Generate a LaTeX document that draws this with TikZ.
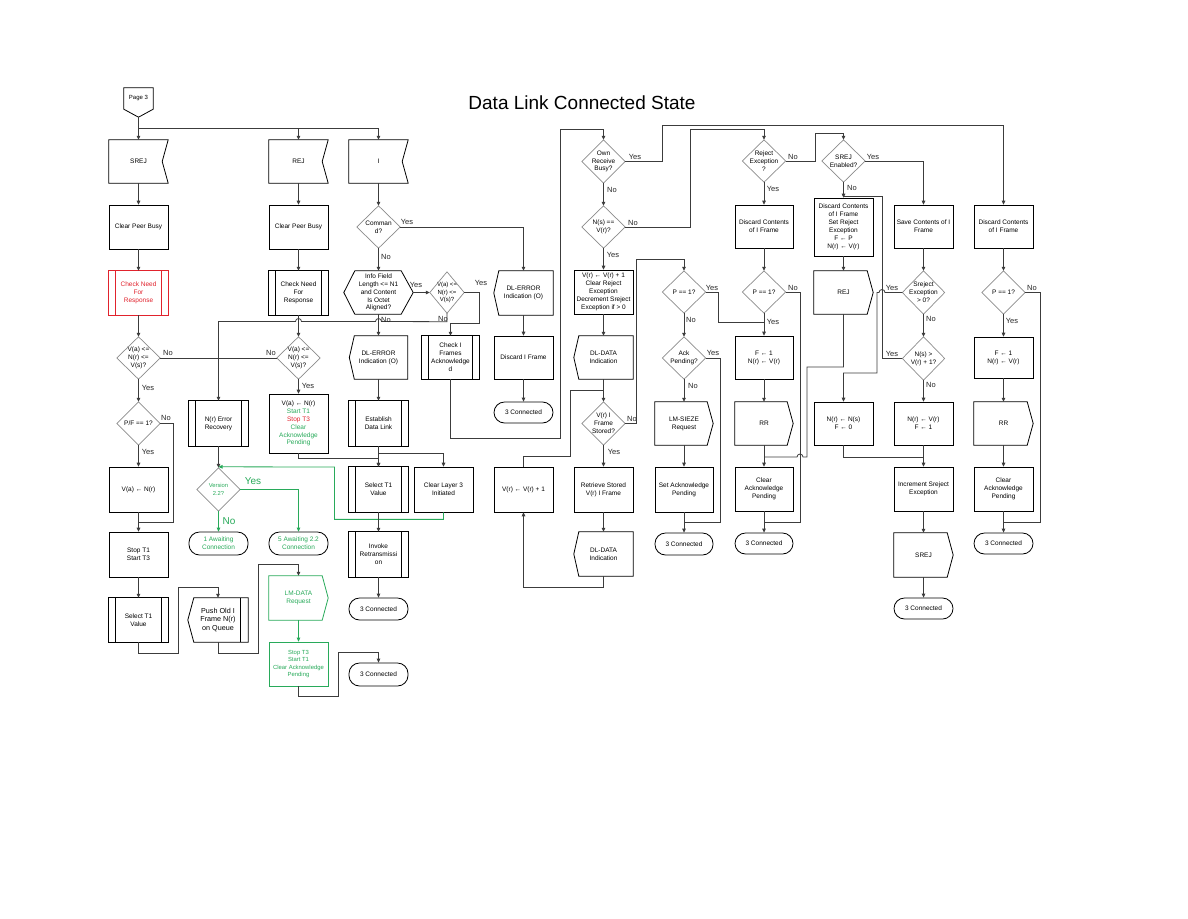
\documentclass[tikz,border=0pt]{standalone}
\usepackage{fontspec}
\setmainfont{Liberation Sans}
\usetikzlibrary{arrows.meta,calc,shadows}
\definecolor{grn}{RGB}{40,170,90}
\definecolor{rd}{RGB}{225,35,45}
\definecolor{ln}{RGB}{60,60,60}
\newcommand\fs{\fontsize{6.5}{7.9}\selectfont}
\newcommand\outrecv[2][black]{\draw[shp,draw=#1] (#2.north west) -- (#2.north east) -- ([xshift=-6pt]#2.east) -- (#2.south east) -- (#2.south west) -- cycle;}
\newcommand\outsend[2][black]{\draw[shp,draw=#1] (#2.north west) -- ([xshift=-6pt]#2.north east) -- (#2.east) -- ([xshift=-6pt]#2.south east) -- (#2.south west) -- cycle;}
\newcommand\outdisp[2][black]{\draw[shp,draw=#1] (#2.north east) -- ([xshift=5pt]#2.north west) -- (#2.west) -- ([xshift=5pt]#2.south west) -- (#2.south east) -- cycle;}
\newcommand\outpre[2][black]{\draw[shp,draw=#1] (#2.north west) rectangle (#2.south east);
  \draw[shp,draw=#1] ([xshift=7pt]#2.north west) -- ([xshift=7pt]#2.south west);
  \draw[shp,draw=#1] ([xshift=-7pt]#2.north east) -- ([xshift=-7pt]#2.south east);}
\newcommand\outdia[1]{\draw[dia] (#1.north) -- (#1.east) -- (#1.south) -- (#1.west) -- cycle;}
\newcommand\outhex[1]{\draw[shp] (#1.west) -- ([xshift=11pt]#1.north west) -- ([xshift=-12pt]#1.north east) -- (#1.east) -- ([xshift=-12pt]#1.south east) -- ([xshift=11pt]#1.south west) -- cycle;}
\begin{document}
\begin{tikzpicture}[x=1pt,y=-1pt,
  base/.style={inner sep=0pt, align=center, font=\fs},
  sz/.style 2 args={minimum width=#1pt, minimum height=#2pt},
  nd/.style={base},
  bx/.style={base, draw=black, line width=0.7pt, fill=white,
     drop shadow={shadow xshift=0.7pt, shadow yshift=-0.7pt, fill=black, opacity=1}},
  gbx/.style={base, draw=grn, line width=0.8pt, fill=white},
  term/.style={base, draw=black, line width=0.8pt, rounded corners=10.5pt},
  shp/.style={line width=0.8pt},
  dia/.style={line width=0.7pt, draw=black!45},
  line/.style={draw=ln, line width=0.8pt},
  arr/.style={line, -{Triangle[length=4pt,width=3.6pt]}},
  garr/.style={arr, draw=grn},
  lab/.style={inner sep=0pt, font=\fontsize{7.5}{8}\selectfont, text=black!85},
  glab/.style={inner sep=0pt, font=\fontsize{10}{11}\selectfont, text=grn}]
\useasboundingbox (0,0) rectangle (1188,918);
\fill[white] (0,0) rectangle (1188,918);

\node[font=\fontsize{19}{22}\selectfont] (title) at (582,103) {Data Link Connected State};

% page connector
\node[nd, sz={29}{21}, font=\fontsize{6}{7}\selectfont] (p3) at (138.5,98.5) {Page 3};
\coordinate (p3tip) at ([yshift=-8pt]p3.south);
\draw[shp] (p3.south west) -- (p3.north west) -- (p3.north east) -- (p3.south east) -- (p3tip) -- cycle;

% ---------- column A
\node[nd, sz={59}{43}] (srej) at (138.5,161.5) {SREJ}; \outrecv{srej}
\node[bx, sz={59}{44}] (cpb1) at (138.5,227) {Clear Peer Busy};
\node[nd, sz={59}{44}, text=rd] (cnr1) at (138.5,293) {Check Need\\For\\Response}; \outpre[rd]{cnr1}
\node[nd, sz={43}{42}] (d1) at (138.5,358) {V(a) <=\\N(r) <=\\V(s)?}; \outdia{d1}
\node[nd, sz={43}{43}] (pf) at (138.5,423.5) {P/F == 1?}; \outdia{pf}
\node[bx, sz={59}{45}] (vas1) at (138.5,489.5) {V(a) ← N(r)};
\node[bx, sz={59}{45}] (st1) at (138.5,554.5) {Stop T1\\Start T3};
\node[nd, sz={59}{44}] (sel1) at (138.5,620) {Select T1\\Value}; \outpre{sel1}
\node[nd, sz={60}{44}, font=\fontsize{7.2}{8.3}\selectfont] (push) at (218,620) {Push Old I\\Frame N(r)\\on Queue};
\draw[shp] (push.north east) -- ([xshift=6pt]push.north west) -- (push.west) -- ([xshift=6pt]push.south west) -- (push.south east) -- cycle;
\draw[shp] ([xshift=-8pt]push.north east) -- ([xshift=-8pt]push.south east);

% ---------- column B
\node[nd, sz={59}{43}] (rej) at (298.5,161.5) {REJ}; \outrecv{rej}
\node[bx, sz={59}{44}] (cpb2) at (298.5,227) {Clear Peer Busy};
\node[nd, sz={59}{44}] (cnr2) at (298.5,293) {Check Need\\For\\Response}; \outpre{cnr2}
\node[nd, sz={43}{42}] (d2) at (298.5,358) {V(a) <=\\N(r) <=\\V(s)?}; \outdia{d2}
\node[bx, sz={59}{59}] (vas2) at (298.5,423.5) {V(a) ← N(r)\\{\color{grn}Start T1}\\{\color{rd}Stop T3}\\{\color{grn}Clear}\\{\color{grn}Acknowledge}\\{\color{grn}Pending}};
\node[nd, sz={59}{45}] (nre) at (218.5,423.5) {N(r) Error\\Recovery}; \outpre{nre}
\node[nd, sz={43}{43}, text=grn, font=\fontsize{5.8}{7.4}\selectfont] (ver) at (218.5,489.5) {Version\\2.2?}; \outdia{ver}
\node[term, sz={59}{23}, text=grn] (aw1) at (218.5,543.5) {1 Awaiting\\Connection};
\node[term, sz={59}{23}, text=grn] (aw5) at (298.5,543.5) {5 Awaiting 2.2\\Connection};
\node[nd, sz={59}{44}, text=grn] (lmd) at (298.5,598) {LM-DATA\\Request}; \outsend[grn]{lmd}
\node[gbx, sz={59}{44}, text=grn, font=\fontsize{5.9}{7.6}\selectfont] (st3) at (298.5,664) {Stop T3\\Start T1\\Clear Acknowledge\\Pending};
\node[term, sz={59}{23}] (c3a) at (378.5,674.5) {3 Connected};

% ---------- column C
\node[nd, sz={59}{43}] (inode) at (378.5,161.5) {I}; \outrecv{inode}
\node[nd, sz={43}{42}] (cmd) at (378.5,227) {Comman\\d?}; \outdia{cmd}
\node[nd, sz={69}{43}] (info) at (378.5,292.5) {Info Field\\Length <= N1\\and Content\\Is Octet\\Aligned?}; \outhex{info}
\node[nd, sz={34}{41}, font=\fontsize{6}{7.6}\selectfont] (d3) at (447,292.5) {V(a) <=\\N(r) <=\\V(s)?}; \outdia{d3}
\node[nd, sz={58}{43}] (dle1) at (378.5,357.5) {DL-ERROR\\Indication (O)}; \outdisp{dle1}
\node[nd, sz={57}{43}] (cif) at (450.5,357.5) {Check I\\Frames\\Acknowledge\\d}; \outpre{cif}
\node[nd, sz={59}{45}] (edl) at (378.5,423.5) {Establish\\Data Link}; \outpre{edl}
\node[nd, sz={59}{45}] (sel2) at (378.5,489.5) {Select T1\\Value}; \outpre{sel2}
\node[bx, sz={59}{45}] (cl3) at (443.5,489.5) {Clear Layer 3\\Initiated};
\node[nd, sz={59}{45}] (inv) at (378.5,554.5) {Invoke\\Retransmissi\\on}; \outpre{inv}
\node[term, sz={59}{22}] (c3b) at (378.5,609) {3 Connected};

% ---------- column D
\node[nd, sz={59}{44}] (dle2) at (523.5,293) {DL-ERROR\\Indication (O)}; \outdisp{dle2}
\node[bx, sz={59}{43}] (dif) at (523.5,357.5) {Discard I Frame};
\node[term, sz={59}{21}] (c3c) at (523.5,412.5) {3 Connected};
\node[bx, sz={59}{45}] (vinc) at (523.5,489.5) {V(r) ← V(r) + 1};

% ---------- column E
\node[nd, sz={43}{43}] (orb) at (603.5,161.5) {Own\\Receive\\Busy?}; \outdia{orb}
\node[nd, sz={43}{42}] (nsvr) at (603.5,227) {N(s) ==\\V(r)?}; \outdia{nsvr}
\node[bx, sz={59}{44}] (vrb) at (603.5,292) {V(r) ← V(r) + 1\\Clear Reject\\Exception\\Decrement Sreject\\Exception if > 0};
\node[nd, sz={59}{43}] (dld1) at (603.5,357.5) {DL-DATA\\Indication}; \outdisp{dld1}
\node[nd, sz={43}{43}] (vrs) at (603.5,423.5) {V(r) I\\Frame\\Stored?}; \outdia{vrs}
\node[bx, sz={59}{45}] (rsv) at (603.5,489.5) {Retrieve Stored\\V(r) I Frame};
\node[nd, sz={59}{44}] (dld2) at (603.5,554) {DL-DATA\\Indication}; \outdisp{dld2}

% ---------- column F
\node[nd, sz={43}{42}] (p1a) at (684,292) {P == 1?}; \outdia{p1a}
\node[nd, sz={43}{42}] (ack) at (684,358) {Ack\\Pending?}; \outdia{ack}
\node[nd, sz={58}{43}] (lms) at (684,423.5) {LM-SIEZE\\Request}; \outsend{lms}
\node[bx, sz={58}{45}] (sap) at (684,489.5) {Set Acknowledge\\Pending};
\node[term, sz={58}{22}] (c3d) at (684,544) {3 Connected};

% ---------- column G
\node[nd, sz={43}{42}] (rexc) at (764,161) {Reject\\Exception\\?}; \outdia{rexc}
\node[bx, sz={58}{43}] (dc1) at (764,226.5) {Discard Contents\\of I Frame};
\node[nd, sz={43}{42}] (p1b) at (764,292) {P == 1?}; \outdia{p1b}
\node[bx, sz={58}{43}] (f1a) at (764,357.5) {F ← 1\\N(r) ← V(r)};
\node[nd, sz={58}{43}] (rr1) at (764,423.5) {RR}; \outsend{rr1}
\node[bx, sz={58}{44}] (cap1) at (764,489) {Clear\\Acknowledge\\Pending};
\node[term, sz={58}{21}] (c3e) at (764,543.5) {3 Connected};

% ---------- column H
\node[nd, sz={43}{42}] (senab) at (843.5,161) {SREJ\\Enabled?}; \outdia{senab}
\node[bx, sz={59}{58}] (dcsr) at (843.5,227) {Discard Contents\\of I Frame\\Set Reject\\Exception\\F ← P\\N(r) ← V(r)};
\node[nd, sz={59}{43}] (rej2) at (843.5,292.5) {REJ}; \outsend{rej2}
\node[bx, sz={59}{43}] (nrns) at (843.5,423.5) {N(r) ← N(s)\\F ← 0};

% ---------- column I
\node[bx, sz={59}{43}] (sci) at (923.5,226.5) {Save Contents of I\\Frame};
\node[nd, sz={42}{43}] (sre) at (923.5,292.5) {Sreject\\Exception\\> 0?}; \outdia{sre}
\node[nd, sz={42}{43}] (nsv) at (923.5,358.5) {N(s) >\\V(r) + 1?}; \outdia{nsv}
\node[bx, sz={59}{43}] (nrv) at (923.5,423.5) {N(r) ← V(r)\\F ← 1};
\node[bx, sz={59}{44}] (inc) at (923.5,489) {Increment Sreject\\Exception};
\node[nd, sz={59}{44}] (srej2) at (923.5,555) {SREJ}; \outsend{srej2}
\node[term, sz={59}{21}] (c3f) at (923.5,608.5) {3 Connected};

% ---------- column J
\node[bx, sz={59}{43}] (dc2) at (1003.5,226.5) {Discard Contents\\of I Frame};
\node[nd, sz={43}{43}] (p1c) at (1003.5,292.5) {P == 1?}; \outdia{p1c}
\node[bx, sz={59}{41}] (f1b) at (1003.5,357.5) {F ← 1\\N(r) ← V(r)};
\node[nd, sz={59}{43}] (rr2) at (1003.5,423.5) {RR}; \outsend{rr2}
\node[bx, sz={59}{44}] (cap2) at (1003.5,489) {Clear\\Acknowledge\\Pending};
\node[term, sz={59}{21}] (c3g) at (1003.5,543.5) {3 Connected};

% ================= connectors
\coordinate (bus) at (138.5,128);
\draw[line] (p3tip) -- (bus) -- (inode.north |- bus);
\draw[arr] (bus) -- (srej.north);
\draw[arr] (rej.north |- bus) -- (rej.north);
\draw[arr] (inode.north |- bus) -- (inode.north);

% column A
\draw[arr] (srej.south) -- (cpb1.north);
\draw[arr] (cpb1.south) -- (cnr1.north);
\draw[arr] (cnr1.south) -- (d1.north);
\draw[arr] (d1.south) -- (pf.north);
\draw[arr] (pf.south) -- (vas1.north);
\draw[arr] (vas1.south) -- (st1.north);
\draw[arr] (st1.south) -- (sel1.north);
\draw[line] (pf.east) -- ++(13.5,0) |- ($(vas1.south)!0.5!(st1.north)$);
\draw[arr] (sel1.south) -- ++(0,11) -- ++(39.5,0) |- ([yshift=10pt]push.north) -- (push.north);
\draw[arr] (push.south) -- ++(0,11) -- ++(40.5,0) |- ([yshift=11pt]lmd.north) -- (lmd.north);
\draw[garr] (lmd.south) -- (st3.north);
\draw[arr] (st3.south) -- ++(0,10) -- ++(40,0) |- ([yshift=10pt]c3a.north) -- (c3a.north);

% column B
\draw[arr] (rej.south) -- (cpb2.north);
\draw[arr] (cpb2.south) -- (cnr2.north);
\draw[arr] (cnr2.south) -- (d2.north);
\draw[arr] (d2.south) -- (vas2.north);
\draw[line] (d1.east) -- (d2.west);
\draw[arr] (d3.south) -- ++(0,8.5) -- (381.5,321.5) arc[start angle=0,end angle=180,radius=3pt] -- (301.5,321.5) arc[start angle=0,end angle=180,radius=3pt] -| (nre.north);
\draw[arr] (vas2.south) -- ++(0,5) -| (sel2.north);
\draw[arr] (nre.south) -- (ver.north);
\draw[garr] (ver.east) -| (aw5.north);
\draw[garr] (ver.south) -- (aw1.north);
\draw[garr] (cl3.south) -- ++(0,7) -| (334.5,467) -- ([yshift=1pt]ver.north);

% column C
\draw[arr] (inode.south) -- (cmd.north);
\draw[arr] (cmd.south) -- (info.north);
\draw[arr] (cmd.east) -| (dle2.north);
\draw[arr] (info.east) -- (d3.west);
\draw[arr] (d3.east) -- ++(15,0) -- ++(0,30.5) -| (cif.north);
\draw[arr] (info.south) -- (dle1.north);
\draw[arr] (dle1.south) -- (edl.north);
\draw[arr] (edl.south) -- (sel2.north);
\draw[arr] (edl.south) -- ++(0,7) -| (cl3.north);
\draw[arr] (sel2.south) -- (inv.north);
\draw[arr] (inv.south) -- (c3b.north);
\draw[arr] (cif.south) |- (560,438) -- (560,129) -| (orb.north);

% column D
\draw[arr] (dle2.south) -- (dif.north);
\draw[arr] (dif.south) -- (c3c.north);
\draw[arr] (dld2.south) -- ++(0,11) -| (vinc.south);
\draw[line] (vinc.north) -- ++(0,-10) -- ++(46.5,0) |- ($(dld1.south)!0.5!(vrs.north)$);

% column E
\draw[arr] (orb.south) -- (nsvr.north);
\draw[arr] (orb.east) -- (662,161.5) -- (662,125) -| (dc2.north);
\draw[arr] (nsvr.east) -- (690,227) -- (690,129) -| (rexc.north);
\draw[arr] (nsvr.south) -- (vrb.north);
\draw[arr] (vrb.south) -- (dld1.north);
\draw[arr] (dld1.south) -- (vrs.north);
\draw[arr] (vrs.south) -- (rsv.north);
\draw[arr] (rsv.south) -- (dld2.north);
\draw[arr] (vrs.east) -- (636,423.5) -- (636,259) -| (p1a.north);

% column F
\draw[arr] (p1a.south) -- (ack.north);
\coordinate (j1) at (764,322);
\draw[line] (p1a.east) -- (718,292) |- (j1);
\draw[arr] (ack.south) -- (lms.north);
\draw[line] (ack.east) -- (720,358) |- ($(sap.south)!0.5!(c3d.north)$);
\draw[arr] (lms.south) -- (sap.north);
\draw[arr] (sap.south) -- (c3d.north);

% column G
\draw[arr] (rexc.south) -- (dc1.north);
\draw[arr] (rexc.east) -- (815,161) -- (815,133) -| (senab.north);
\draw[arr] (dc1.south) -- (p1b.north);
\draw[arr] (p1b.south) -- (f1a.north);
\draw[line] (p1b.east) -- (800,292) |- ($(cap1.south)!0.5!(c3e.north)$);
\draw[arr] (f1a.south) -- (rr1.north);
\draw[arr] (rr1.south) -- (cap1.north);
\draw[arr] (cap1.south) -- (c3e.north);
\draw[line] (rej2.south) |- (807,367) -- (807,457) -- (803,457) arc[start angle=0,end angle=180,radius=3pt] -- (764,457);

% column H
\draw[arr] (senab.south) -- (dcsr.north);
\draw[arr] (senab.east) -| (sci.north);
\draw[arr] (dcsr.south) -- (rej2.north);
\draw[line] (nsv.west) -- (882,358.5) -- (882,196) -- (843.5,196);
\draw[arr] (sre.west) -- (885,292.5) arc[start angle=0,end angle=180,radius=3pt] -- (877,292.5) -- (877,373) -| (nrns.north);
\draw[line] (nrns.south) |- (923.5,457);

% column I
\draw[arr] (sci.south) -- (sre.north);
\draw[arr] (sre.south) -- (nsv.north);
\draw[arr] (nsv.south) -- (nrv.north);
\draw[arr] (nrv.south) -- (inc.north);
\draw[arr] (inc.south) -- (srej2.north);
\draw[arr] (srej2.south) -- (c3f.north);

% column J
\draw[arr] (dc2.south) -- (p1c.north);
\draw[arr] (p1c.south) -- (f1b.north);
\draw[arr] (f1b.south) -- (rr2.north);
\draw[arr] (rr2.south) -- (cap2.north);
\draw[arr] (cap2.south) -- (c3g.north);
\draw[line] (p1c.east) -- (1040,292.5) |- ($(cap2.south)!0.5!(c3g.north)$);

% ================= labels
\node[lab] at (168,353) {No};
\node[lab] at (148,388) {Yes};
\node[lab] at (271,353) {No};
\node[lab] at (308,386) {Yes};
\node[lab] at (166,418) {No};
\node[lab] at (148,452) {Yes};
\node[glab] at (253,481) {Yes};
\node[glab] at (229,521) {No};
\node[lab] at (407,222) {Yes};
\node[lab] at (386,257) {No};
\node[lab] at (416,285) {Yes};
\node[lab] at (386,320) {No};
\node[lab] at (481,283) {Yes};
\node[lab] at (443,319) {No};
\node[lab] at (635,157) {Yes};
\node[lab] at (612,190) {No};
\node[lab] at (633,223) {No};
\node[lab] at (613,255) {Yes};
\node[lab] at (632,419) {No};
\node[lab] at (614,452) {Yes};
\node[lab] at (712,288) {Yes};
\node[lab] at (691,320) {No};
\node[lab] at (713,353) {Yes};
\node[lab] at (693,386) {No};
\node[lab] at (793,157) {No};
\node[lab] at (773,189) {Yes};
\node[lab] at (793,288) {No};
\node[lab] at (773,322) {Yes};
\node[lab] at (873,157) {Yes};
\node[lab] at (852,188) {No};
\node[lab] at (892,288) {Yes};
\node[lab] at (931,319) {No};
\node[lab] at (892,354) {Yes};
\node[lab] at (931,385) {No};
\node[lab] at (1032,288) {No};
\node[lab] at (1012,321) {Yes};
\end{tikzpicture}
\end{document}
